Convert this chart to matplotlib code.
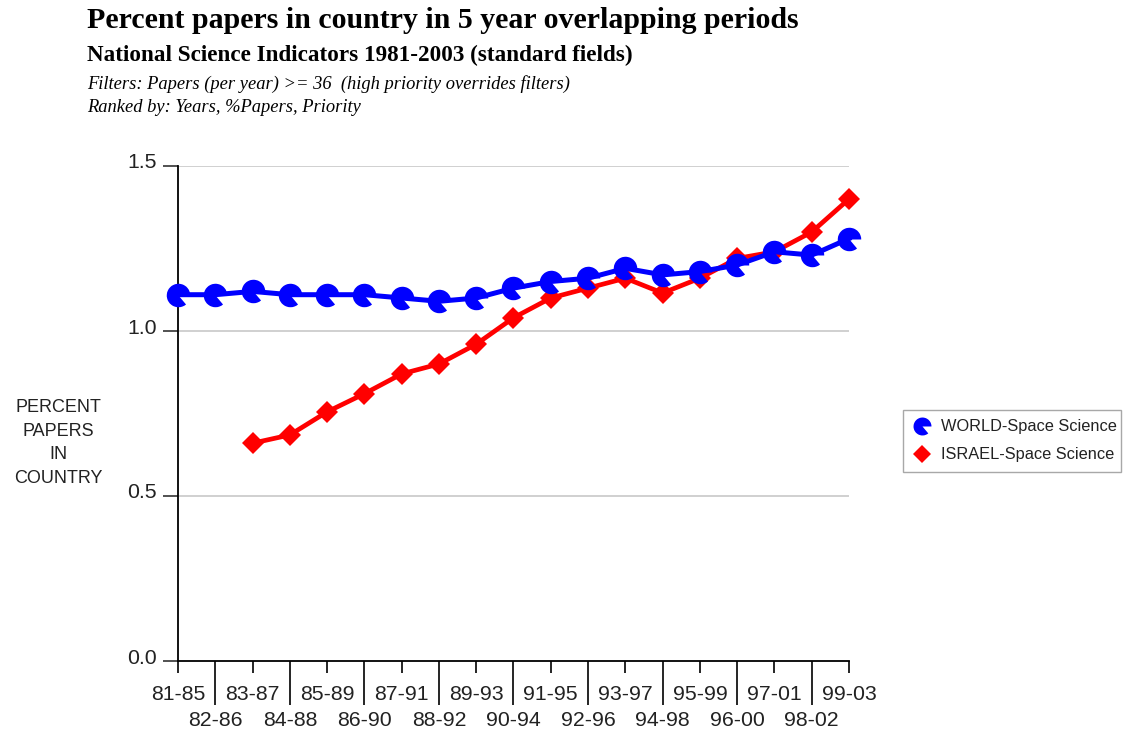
import matplotlib
matplotlib.use("Agg")
import matplotlib.pyplot as plt
from matplotlib.path import Path
from matplotlib.lines import Line2D
from matplotlib.patches import Rectangle
from matplotlib.transforms import ScaledTranslation

periods_top = ["81-85", "83-87", "85-89", "87-91", "89-93", "91-95", "93-97", "95-99", "97-01", "99-03"]
periods_bottom = ["82-86", "84-88", "86-90", "88-92", "90-94", "92-96", "94-98", "96-00", "98-02"]
periods = ["81-85", "82-86", "83-87", "84-88", "85-89", "86-90", "87-91", "88-92", "89-93", "90-94",
           "91-95", "92-96", "93-97", "94-98", "95-99", "96-00", "97-01", "98-02", "99-03"]
world = [1.11, 1.11, 1.12, 1.11, 1.11, 1.11, 1.10, 1.09, 1.10, 1.13,
         1.15, 1.16, 1.19, 1.17, 1.18, 1.20, 1.24, 1.23, 1.28]
israel_periods = periods[2:]
israel = [0.66, 0.685, 0.755, 0.81, 0.87, 0.90, 0.96, 1.04, 1.10, 1.13,
          1.16, 1.115, 1.16, 1.22, 1.24, 1.30, 1.40]
yticks = [0.0, 0.5, 1.0, 1.5]
ytick_labels = ["0.0", "0.5", "1.0", "1.5"]
legend_labels = ["WORLD-Space Science", "ISRAEL-Space Science"]

W, H = 1125, 731
fig = plt.figure(figsize=(W / 100, H / 100), dpi=100)
ax = fig.add_axes([178 / W, 1 - 661 / H, (849 - 178) / W, (661 - 166) / H])

xpos = {p: i for i, p in enumerate(periods)}
xw = [xpos[p] for p in periods]
xi = [xpos[p] for p in israel_periods]

pac = Path.wedge(0, 310)

ax.plot(xi, israel, color="#ff0000", linewidth=3.4, marker="D", markersize=11,
        markeredgewidth=0, zorder=3, clip_on=False)
ax.plot(xw, world, color="#0000ff", linewidth=3.6, marker=pac, markersize=17,
        markeredgewidth=0, zorder=4, clip_on=False)

ax.set_xlim(0, len(periods) - 1)
ax.set_ylim(0, 1.5)
for y in yticks[1:]:
    ax.axhline(y, color="#c8c8c8", linewidth=1.2, zorder=1)

ax.spines["top"].set_visible(False)
ax.spines["right"].set_visible(False)
ax.spines["left"].set_linewidth(1.3)
ax.spines["bottom"].set_linewidth(1.3)

tick_font = {"fontfamily": "Liberation Sans", "fontsize": 15.3, "color": "#222222"}
ax.set_yticks(yticks)
ax.set_yticklabels(ytick_labels, **tick_font)
ax.tick_params(axis="y", length=11, width=1.2, pad=4, color="#333333")
for lab in ax.get_yticklabels():
    lab.set_transform(lab.get_transform() + ScaledTranslation(0, 5 / 100, fig.dpi_scale_trans))

ax.set_xticks([xpos[p] for p in periods_top])
ax.set_xticklabels(periods_top, **tick_font)
ax.set_xticks([xpos[p] for p in periods_bottom], minor=True)
ax.set_xticklabels(periods_bottom, minor=True, **tick_font)
ax.tick_params(axis="x", which="major", length=8.6, width=1.2, pad=9)
ax.tick_params(axis="x", which="minor", length=31.7, width=1.2, pad=4)

fig.text(58 / W, 1 - 443 / H, "PERCENT\nPAPERS\nIN\nCOUNTRY", ha="center", va="center",
         fontfamily="Liberation Sans", fontsize=13, linespacing=1.5, color="#222222")

fig.text(87 / W, 1 - 21 / H, "Percent papers in country in 5 year overlapping periods",
         ha="left", va="center", fontfamily="Liberation Serif", fontweight="bold", fontsize=21.5)
fig.text(87 / W, 1 - 55 / H, "National Science Indicators 1981-2003 (standard fields)",
         ha="left", va="center", fontfamily="Liberation Serif", fontweight="bold", fontsize=16.7)
fig.text(87 / W, 1 - 84 / H, "Filters: Papers (per year) >= 36  (high priority overrides filters)",
         ha="left", va="center", fontfamily="Liberation Serif", fontstyle="italic", fontsize=13.3)
fig.text(87 / W, 1 - 107 / H, "Ranked by: Years, %Papers, Priority",
         ha="left", va="center", fontfamily="Liberation Serif", fontstyle="italic", fontsize=13.3)

# legend drawn manually in figure pixel coordinates
fig.patches.append(Rectangle((903 / W, 1 - 472 / H), (1121 - 903) / W, (472 - 410) / H,
                             transform=fig.transFigure, facecolor="white",
                             edgecolor="#a8a8a8", linewidth=1.0))
leg_styles = [dict(marker=pac, markersize=13, color="#0000ff"),
              dict(marker="D", markersize=9, color="#ff0000")]
for row, (label, st) in enumerate(zip(legend_labels, leg_styles)):
    yy = 1 - (426 + 28 * row) / H
    fig.add_artist(Line2D([922 / W], [yy], linestyle="none", markeredgewidth=0,
                          transform=fig.transFigure, **st))
    fig.text(941 / W, yy, label, ha="left", va="center", fontfamily="Liberation Sans",
             fontsize=11.8, color="#222222")

fig.savefig("out.png", dpi=100)
